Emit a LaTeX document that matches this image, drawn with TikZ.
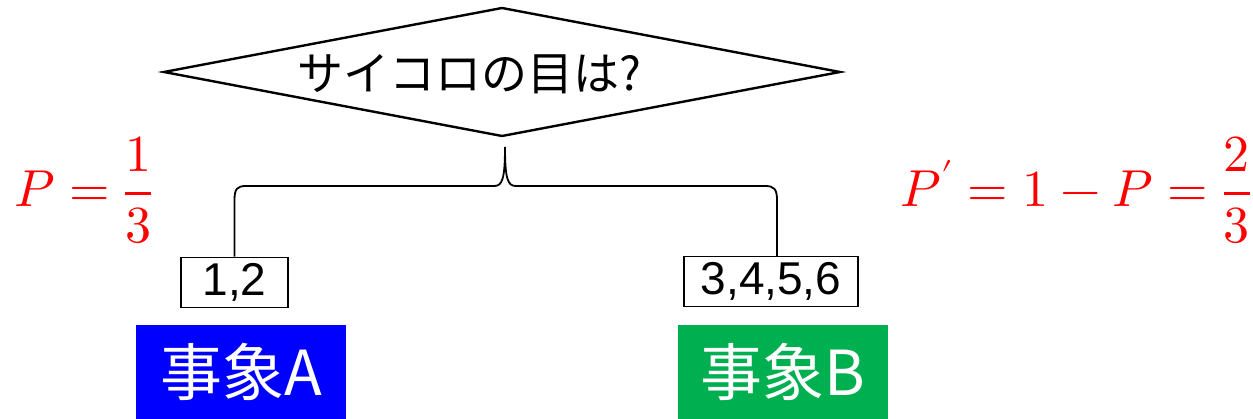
\documentclass[tikz,border=0pt]{standalone}
\usepackage{fontspec}
\usepackage{unicode-math}
\setmainfont{Liberation Sans}
\setmathfont{Latin Modern Math}
\newfontfamily\jp{Noto Sans CJK JP}
\usetikzlibrary{shapes.geometric}
\definecolor{evA}{HTML}{0000FF}
\definecolor{evB}{HTML}{00B050}
\begin{document}
\begin{tikzpicture}[x=1pt,y=-1pt,
  brace/.style={line width=1.8pt},
  valbox/.style={draw, line width=1.6pt, minimum height=50pt, inner sep=0pt, font=\fontsize{46}{52}\selectfont},
  evbox/.style={minimum width=210pt, minimum height=94pt, inner sep=0pt, text=white, font=\jp\fontsize{62}{68}\selectfont},
  prob/.style={text=red, font=\fontsize{52}{60}\selectfont, inner sep=0pt}]
\useasboundingbox (0,0) rectangle (1253,419);
\node[draw, diamond, line width=2.4pt, aspect=5.25, minimum width=677pt, minimum height=129pt, inner sep=0pt] (q) at (502,72) {};
\node[font=\jp\fontsize{46}{52}\selectfont, inner sep=0pt] (qt) at (469,74) {サイコロの目は?};
\node[valbox, minimum width=107pt] (b1) at (234.5,282.5) {1,2};
\node[valbox, minimum width=174pt] (b2) at (771,281.5) {3,4,5,6};
\node[evbox, fill=evA] (eA) at (241,372) {事象A};
\node[evbox, fill=evB] (eB) at (783,372) {事象B};
\node[prob, anchor=west] (pA) at (14,190) {$\displaystyle P=\frac{1}{3}$};
\node[prob, anchor=east] (pB) at (1251,190) {$\displaystyle P'=1-P=\frac{2}{3}$};
\coordinate (tip) at (505,147);
\coordinate (bR) at (777,256.5);
\draw[brace] (b1.north) -- (234.5,200) .. controls (234.5,189) and (237,186) .. (246,186) -- (494,186)
  .. controls (502,186) and (505,180) .. (tip)
  .. controls (505,180) and (508,186) .. (516,186) -- (765,186)
  .. controls (774,186) and (777,189) .. (777,200) -- (bR);
\end{tikzpicture}
\end{document}
